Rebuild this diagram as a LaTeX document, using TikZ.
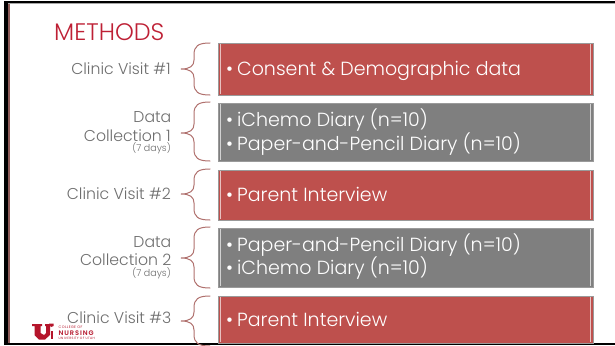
\documentclass[tikz,border=0pt]{standalone}
\usepackage{fontspec}
\setmainfont{Poppins Light}
\newfontfamily\logofont[LetterSpace=14]{Poppins SemiBold}
\newfontfamily\logosmall[LetterSpace=10]{Poppins}
\definecolor{redbox}{HTML}{BE504D}
\definecolor{greybox}{HTML}{7F7F7F}
\definecolor{edgegrey}{HTML}{9A9A9A}
\definecolor{brace}{HTML}{B0716E}
\definecolor{labelgrey}{HTML}{6E6E6E}
\definecolor{title}{HTML}{BE2035}
\definecolor{utah}{HTML}{B5152B}
\tikzset{
  itembox/.style={draw=edgegrey,line width=1.2pt,minimum width=375pt,anchor=north west,inner sep=0pt},
  boxtext/.style={text=white,anchor=west,inner sep=0pt,font=\fontsize{19}{22}\selectfont},
  sidelabel/.style={text=labelgrey,align=right,anchor=east,inner sep=0pt,font=\fontsize{15.7}{17}\selectfont},
  smalllabel/.style={text=labelgrey,anchor=east,inner sep=0pt,font=\fontsize{9.5}{11}\selectfont},
  bracepath/.style={draw=brace,line width=1pt,line cap=round},
  innerline/.style={draw=white,opacity=.65,line width=.9pt},
  logotext/.style={text=utah,anchor=west,inner sep=0pt}
}
\newcommand{\curly}[3]{% top, mid, bottom
  \draw[bracepath] (210,#1) .. controls (198,#1) and (194,#1+3) .. (194,#1+12)
    -- (194,#2-9) .. controls (194,#2-3) and (190,#2) .. (181,#2)
    .. controls (190,#2) and (194,#2+3) .. (194,#2+9)
    -- (194,#3-12) .. controls (194,#3-3) and (198,#3) .. (210,#3);
}
\newcommand{\itemtext}[1]{•\kern4pt #1}
\begin{document}
\begin{tikzpicture}[x=1pt,y=-1pt]
\useasboundingbox (0,0) rectangle (615,345);
\fill[white] (0,0) rectangle (615,345);
% frame
\fill[black] (4,1) rectangle (615,3.5);
\fill[gray!70] (8,3.5) rectangle (615,4.5);
\fill[black] (4,1) rectangle (8,345);
\fill[brace!80!black] (8,4) rectangle (10,345);
\fill[black] (4,342.5) rectangle (615,345);
% title
\node[text=title,anchor=west,inner sep=0pt,font=\fontsize{23.9}{26}\selectfont] (ttl) at (54,32.5) {METHODS};
% boxes
\node[itembox,fill=redbox,minimum height=52pt] (b1) at (218,43) {};
\node[itembox,fill=greybox,minimum height=58pt] (b2) at (218,103) {};
\node[itembox,fill=redbox,minimum height=50pt] (b3) at (218,170) {};
\node[itembox,fill=greybox,minimum height=59pt] (b4) at (218,228) {};
\node[itembox,fill=redbox,minimum height=47pt] (b5) at (218,295.5) {};
\foreach \a/\b in {44/94,104/160,171/219,229/286,296.5/342}{
  \draw[innerline] (220.5,\a) -- (220.5,\b);
  \draw[innerline] (590.5,\a) -- (590.5,\b);
}
% box text
\node[boxtext] (t1) at (226,70.5) {\itemtext{Consent \& Demographic data}};
\node[boxtext] (t2) at (226,120) {\itemtext{iChemo Diary (n=10)}};
\node[boxtext] (t3) at (226,144) {\itemtext{Paper-and-Pencil Diary (n=10)}};
\node[boxtext] (t4) at (226,194.5) {\itemtext{Parent Interview}};
\node[boxtext] (t5) at (226,245) {\itemtext{Paper-and-Pencil Diary (n=10)}};
\node[boxtext] (t6) at (226,268.5) {\itemtext{iChemo Diary (n=10)}};
\node[boxtext] (t7) at (226,319.5) {\itemtext{Parent Interview}};
% braces
\curly{43}{69}{95}
\curly{102}{133}{161}
\curly{169}{194}{220}
\curly{227}{258}{288}
\curly{296}{321}{346}
% side labels
\node[sidelabel] (s1) at (171,69) {Clinic Visit \#1};
\node[sidelabel] (s2a) at (171.5,117) {Data};
\node[sidelabel] (s2b) at (171,136) {Collection 1};
\node[smalllabel] (s2c) at (171,148) {(7 days)};
\node[sidelabel] (s3) at (171,194) {Clinic Visit \#2};
\node[sidelabel] (s4a) at (171.5,242) {Data};
\node[sidelabel] (s4b) at (171.5,260) {Collection 2};
\node[smalllabel] (s4c) at (171,273) {(7 days)};
\node[sidelabel] (s5) at (171.5,318) {Clinic Visit \#3};
% logo
\fill[utah] (32,324) -- (42,324) -- (42,326) -- (40.5,326) -- (40.5,333) -- (44,335) -- (46,333) -- (46,326) -- (45,326) -- (45,324) -- (51,324) -- (51,326) -- (50,326) -- (50,335) -- (45,339.5) -- (39,339.5) -- (34.5,335) -- (34.5,326) -- (32,326) -- cycle;
\fill[utah] (49,323.5) -- (53.5,323.5) -- (53.5,326) -- (51,327) -- cycle;
\fill[utah] (50.5,331) rectangle (53,339);
\node[logotext,font=\logosmall\fontsize{3.6}{4}\selectfont] (l1) at (58.5,327.5) {COLLEGE OF};
\node[logotext,font=\logofont\fontsize{6.6}{7}\selectfont] (l2) at (58.5,333.2) {NURSING};
\node[logotext,font=\logosmall\fontsize{3.2}{4}\selectfont] (l3) at (58.5,338.8) {UNIVERSITY OF UTAH};
\end{tikzpicture}
\end{document}
